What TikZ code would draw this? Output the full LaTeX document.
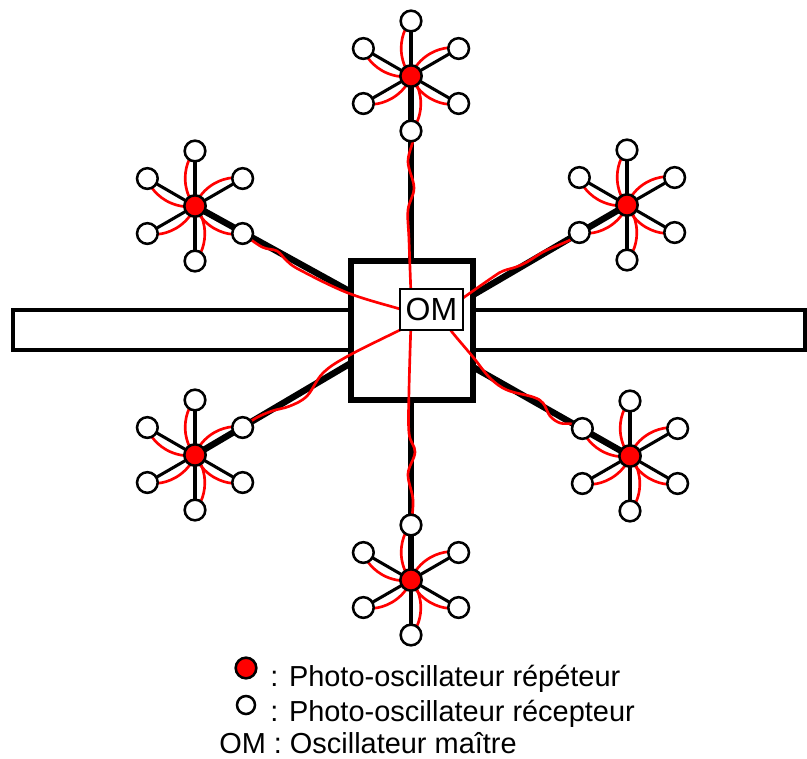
\documentclass[tikz,border=0pt]{standalone}
\usepackage{fontspec}
\setmainfont{Liberation Sans}
\usetikzlibrary{calc}
\tikzset{
  bar/.style={line width=2.5pt},
  sq/.style={draw,fill=white,line width=4.5pt,minimum width=91.5pt,minimum height=104.25pt,inner sep=0pt},
  omb/.style={draw,fill=white,line width=1.9pt,minimum width=47.25pt,minimum height=30.75pt,inner sep=0pt,font=\fontsize{24}{28}\selectfont},
  spoke/.style={line width=2.3pt},
  trunk/.style={line width=4.8pt},
  wire/.style={red,line width=2pt,line cap=round},
  recv/.style={circle,draw,fill=white,line width=1.9pt,minimum size=15.5pt,inner sep=0pt},
  rep/.style={circle,draw,fill=red,line width=1.9pt,minimum size=16pt,inner sep=0pt},
  lab/.style={inner sep=0pt,anchor=base west,font=\fontsize{21.7}{26}\selectfont},
}
\newcommand{\clpoints}[1]{%
  \foreach \t [count=\i] in {-90,-30,30,90,150,210}{\coordinate (#1-p\i) at ($(#1)+(\t:55)$);}}
\newcommand{\clspokes}[1]{%
  \foreach \i in {1,...,6}{\draw[spoke] (#1) -- (#1-p\i);}}
\newcommand{\clwires}[1]{%
  \foreach \t/\s in {-90/-1,-30/-1,30/1,90/-1,150/-1,210/-1}{%
    \draw[wire] ($(#1)+({\t+\s*40}:5)$) .. controls ($(#1)+({\t+\s*32}:24)$) and ($(#1)+({\t+\s*16}:38)$) .. ($(#1)+({\t+\s*7}:47)$);}}
\newcommand{\clnodes}[1]{%
  \foreach \i in {1,...,6}{\node[recv] (#1-\i) at (#1-p\i) {};}
  \node[rep] (#1-c) at (#1) {};}
\begin{document}
\begin{tikzpicture}[x=0.75pt,y=-0.75pt]
\useasboundingbox (0,0) rectangle (807,758);
% bar and central square
\draw[bar] (13,310) rectangle (805,350);
\node[sq] (sq) at (412,330.5) {};
% cluster centres
\coordinate (T) at (411,76);
\coordinate (UL) at (195,206);
\coordinate (UR) at (627,205);
\coordinate (LL) at (195,455);
\coordinate (LR) at (630,456);
\coordinate (B) at (411,580);
\foreach \c in {T,UL,UR,LL,LR,B}{\clpoints{\c}}
% trunk ends on the square
\coordinate (tT) at (411,261);
\coordinate (tB) at (411,400);
\coordinate (tUL) at (351,292);
\coordinate (tUR) at (473,295);
\coordinate (tLL) at (351,363);
\coordinate (tLR) at (473,367);
\foreach \c in {T,UL,UR,LL,LR,B}{\draw[trunk] (\c) -- (t\c);}
\foreach \c in {T,UL,UR,LL,LR,B}{\clspokes{\c}}
\foreach \c in {T,UL,UR,LL,LR,B}{\clwires{\c}}
% wires to the master oscillator
\draw[wire] plot[smooth,tension=0.6] coordinates {(T-p4) (413,140) (408,162) (414,188) (408,210) (409,240) (411,296)};
\draw[wire] plot[smooth,tension=0.6] coordinates {(411,322) (409,390) (409,433) (415,452) (408,474) (413,500) (B-p1)};
\draw[wire] plot[smooth,tension=0.6] coordinates {(410,312) (400,309) (348,293) (300,270) (287,261) (277,251) (262,247) (UL-p3)};
\draw[wire] plot[smooth,tension=0.6] coordinates {(455,304) (463,298) (493,277) (503,271) (516,267) (527,262) (545,251) (570,240) (UR-p5)};
\draw[wire] plot[smooth,tension=0.6] coordinates {(410,325) (400,330) (348,356) (323,373) (307,396) (290,406) (272,411) (256,418) (LL-p2)};
\draw[wire] plot[smooth,tension=0.6] coordinates {(447,324) (452,332) (473,357) (490,378) (507,390) (533,397) (543,403) (550,416) (560,423) (572,424) (LR-p6)};
\node[omb] (om) at (431.5,309.5) {OM};
\foreach \c in {T,UL,UR,LL,LR,B}{\clnodes{\c}}
% legend
\node[rep,minimum size=15.5pt] (lgr) at (246,668) {};
\node[recv,minimum size=13.5pt] (lgw) at (246,705) {};
\node[lab] (l1) at (270,686) {: Photo-oscillateur répéteur};
\node[lab] (l2) at (270,721) {: Photo-oscillateur récepteur};
\node[lab] (l3) at (219,753) {OM : Oscillateur maître};
\end{tikzpicture}
\end{document}
